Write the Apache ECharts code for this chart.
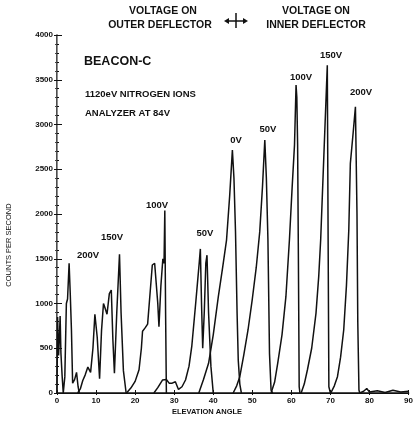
<!DOCTYPE html>
<html>
<head>
<meta charset="utf-8">
<script src="https://cdn.jsdelivr.net/npm/echarts@6/dist/echarts.min.js"></script>
<style>
  html, body { margin: 0; padding: 0; background: #fff; }
  #chart { width: 416px; height: 422px; }
</style>
</head>
<body>
<div id="chart"></div>
<script>
// elevation angle (deg) / counts per second, one trace per deflector voltage
const outer200Angle = [0, 0.15, 0.4, 0.6, 0.8, 1.0, 1.3, 1.6, 2.0, 2.4, 2.7, 3.1, 3.4, 3.7, 4.0, 4.5, 5.0, 5.4, 5.7];
const outer200Count = [0, 850, 420, 600, 860, 450, 200, 0, 180, 1000, 1050, 1450, 1100, 700, 110, 150, 230, 70, 0];

const outer150Angle = [5.3, 6.0, 6.6, 7.2, 7.9, 8.6, 9.2, 9.7, 10.3, 10.9, 11.4, 11.9, 12.3, 12.8, 13.4, 13.9, 14.3, 14.7, 15.3, 16.0, 16.4, 17.0, 17.7];
const outer150Count = [0, 50, 140, 200, 290, 230, 500, 880, 620, 160, 700, 1000, 950, 880, 1110, 1150, 600, 220, 900, 1550, 900, 250, 0];

const outer100Angle = [17.8, 18.9, 20.0, 21.0, 21.6, 21.9, 22.6, 23.2, 23.8, 24.4, 25.0, 25.4, 25.8, 26.1, 26.6, 27.1, 27.4, 27.6, 27.8, 28.0];
const outer100Count = [0, 55, 130, 260, 500, 690, 730, 770, 1100, 1430, 1450, 1440, 1000, 740, 1200, 1500, 1450, 2040, 900, 0];

const outer50Angle = [24.8, 25.8, 27.0, 28.0, 28.7, 29.5, 30.3, 31.1, 32.0, 32.9, 33.8, 34.5, 35.0, 35.5, 36.0, 36.4, 36.7, 37.0, 37.3, 37.7, 38.1, 38.4, 38.8, 39.4, 40.0];
const outer50Count = [0, 60, 145, 150, 110, 110, 126, 40, 70, 145, 300, 520, 760, 1000, 1250, 1450, 1610, 1000, 500, 900, 1450, 1540, 900, 300, 0];

const zeroAngle = [36.3, 37.5, 38.8, 40.0, 41.3, 42.4, 43.4, 44.2, 44.7, 44.9, 45.3, 45.7, 46.1, 46.4, 46.8, 47.2];
const zeroCount = [0, 150, 332, 650, 1076, 1400, 1709, 2200, 2566, 2714, 2400, 1800, 900, 369, 100, 0];

const inner50Angle = [45.1, 46.0, 46.8, 47.8, 48.9, 50.0, 51.0, 51.9, 52.6, 53.2, 53.6, 54.0, 54.4, 54.8, 55.2];
const inner50Count = [0, 80, 182, 420, 704, 1050, 1400, 1800, 2300, 2826, 2400, 1709, 443, 33, 0];

const inner100Angle = [54.8, 55.7, 56.5, 57.6, 58.6, 59.5, 60.2, 60.8, 61.2, 61.4, 61.6, 61.8, 62.0, 62.2];
const inner100Count = [0, 120, 332, 650, 1076, 1709, 2300, 2770, 3441, 3300, 2770, 1500, 70, 0];

const inner150Angle = [62.5, 63.3, 64.1, 65.2, 66.3, 67.0, 67.5, 67.9, 68.5, 69.2, 69.4, 69.6, 70.0];
const inner150Count = [0, 100, 257, 500, 890, 1300, 1709, 2170, 2860, 3663, 1800, 70, 0];

const inner200Angle = [70.1, 71.0, 71.8, 72.6, 73.4, 74.1, 74.7, 75.1, 75.8, 76.4, 76.8, 77.0, 77.3, 77.5];
const inner200Count = [0, 80, 182, 400, 704, 1200, 1821, 2566, 2900, 3198, 2000, 800, 33, 0];

// low noise along the baseline past the last peak
const tailAngle = [77.5, 78.5, 79.3, 80.0, 82.0, 84.0, 86.0, 88.0, 90.0];
const tailCount = [0, 20, 50, 10, 25, 5, 30, 10, 20];

const xTicks = [0, 10, 20, 30, 40, 50, 60, 70, 80, 90];
const yTicks = [0, 500, 1000, 1500, 2000, 2500, 3000, 3500, 4000];

const traces = [
  [outer200Angle, outer200Count],
  [outer150Angle, outer150Count],
  [outer100Angle, outer100Count],
  [outer50Angle, outer50Count],
  [zeroAngle, zeroCount],
  [inner50Angle, inner50Count],
  [inner100Angle, inner100Count],
  [inner150Angle, inner150Count],
  [inner200Angle, inner200Count],
  [tailAngle, tailCount]
];

const ink = '#111';
const face = 'Liberation Sans';

const chart = echarts.init(document.getElementById('chart'));

// text placed by its anchor point (x, y = top of the text)
const txt = (x, y, text, size, align, weight) => ({
  type: 'text', x: x, y: y,
  style: {
    text: text, fill: ink,
    font: (weight || 'bold') + ' ' + size + 'px "' + face + '"',
    textAlign: align || 'left', textVerticalAlign: 'top'
  }
});

const option = {
  animation: false,
  backgroundColor: '#fff',
  grid: { left: 57, right: 4, top: 35, bottom: 29 },
  xAxis: [
    {
      type: 'value', min: 0, max: 90, interval: 10,
      axisLine: { show: true, lineStyle: { color: ink, width: 1.5 } },
      axisTick: { show: true, inside: true, length: 3, lineStyle: { color: ink } },
      axisLabel: {
        color: ink, fontSize: 8, fontWeight: 'bold', fontFamily: face, margin: 4,
        formatter: v => xTicks.includes(v) ? String(v) : ''
      },
      splitLine: { show: false }
    },
    {
      type: 'value', min: 0, max: 90, interval: 10, position: 'top',
      axisLine: { show: true, lineStyle: { color: ink, width: 1.2 } },
      axisTick: { show: true, inside: true, length: 2, lineStyle: { color: ink } },
      axisLabel: { show: false },
      splitLine: { show: false }
    }
  ],
  yAxis: [
    {
      type: 'value', min: 0, max: 4000, interval: 500,
      axisLine: { show: true, lineStyle: { color: ink, width: 1.5 } },
      axisTick: { show: true, inside: true, length: 5, lineStyle: { color: ink } },
      minorTick: { show: true, splitNumber: 5, length: 2, lineStyle: { color: ink } },
      axisLabel: {
        color: ink, fontSize: 8, fontWeight: 'bold', fontFamily: face, margin: 4,
        formatter: v => yTicks.includes(v) ? String(v) : ''
      },
      splitLine: { show: false }
    },
    {
      type: 'value', min: 0, max: 4000, interval: 500, position: 'right',
      axisLine: { show: true, lineStyle: { color: '#bbb', width: 0.6 } },
      axisTick: { show: true, inside: true, length: 3, lineStyle: { color: ink } },
      minorTick: { show: true, splitNumber: 5, length: 2, lineStyle: { color: '#444' } },
      axisLabel: { show: false },
      splitLine: { show: false }
    }
  ],
  series: traces.map(([a, c]) => ({
    type: 'line',
    data: a.map((v, i) => [v, c[i]]),
    showSymbol: false,
    lineStyle: { color: ink, width: 1.5 }
  })),
  graphic: [
    txt(163, 6, 'VOLTAGE ON', 10.5, 'center'),
    txt(160, 20, 'OUTER DEFLECTOR', 10.5, 'center'),
    txt(316, 6, 'VOLTAGE ON', 10.5, 'center'),
    txt(316, 20, 'INNER DEFLECTOR', 10.5, 'center'),
    // double arrow between the two headings
    { type: 'line', shape: { x1: 226, y1: 21, x2: 246, y2: 21 }, style: { stroke: ink, lineWidth: 1.5 } },
    { type: 'line', shape: { x1: 236, y1: 13, x2: 236, y2: 28 }, style: { stroke: ink, lineWidth: 1.5 } },
    { type: 'polygon', shape: { points: [[224, 21], [229, 18], [229, 24]] }, style: { fill: ink } },
    { type: 'polygon', shape: { points: [[248, 21], [243, 18], [243, 24]] }, style: { fill: ink } },

    txt(84, 55, 'BEACON-C', 12.5),
    txt(85, 89, '1120eV NITROGEN IONS', 9.5),
    txt(85, 108, 'ANALYZER AT 84V', 9.5),

    // peak labels
    txt(88, 250, '200V', 9.5, 'center'),
    txt(112, 232, '150V', 9.5, 'center'),
    txt(157, 200, '100V', 9.5, 'center'),
    txt(205, 228, '50V', 9.5, 'center'),
    txt(236, 135, '0V', 9.5, 'center'),
    txt(268, 124, '50V', 9.5, 'center'),
    txt(301, 72, '100V', 9.5, 'center'),
    txt(331, 50, '150V', 9.5, 'center'),
    txt(361, 87, '200V', 9.5, 'center'),

    txt(207, 408, 'ELEVATION ANGLE', 7.5, 'center'),
    {
      type: 'text', x: 9, y: 245, rotation: Math.PI / 2,
      style: {
        text: 'COUNTS PER SECOND', fill: ink, font: '7.5px "' + face + '"',
        textAlign: 'center', textVerticalAlign: 'middle'
      }
    }
  ]
};

chart.setOption(option);
</script>
</body>
</html>
